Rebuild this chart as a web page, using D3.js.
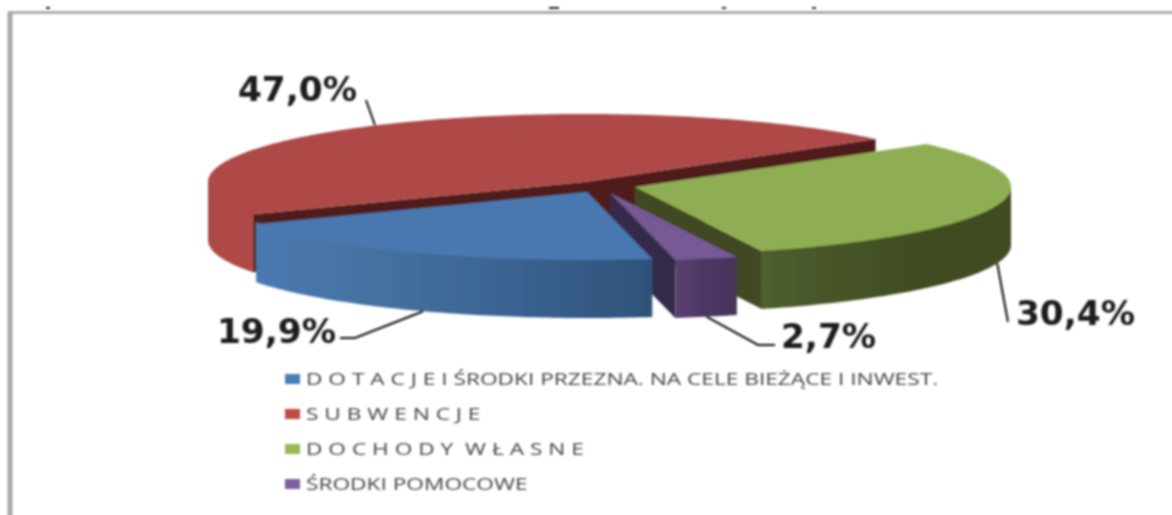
<!DOCTYPE html>
<html>
<head>
<meta charset="utf-8">
<script src="https://cdn.jsdelivr.net/npm/d3@7"></script>
<style>
    html, body { margin: 0; padding: 0; background: #fff; overflow: hidden; }
    svg { display: block; }
</style>
</head>
<body>
<div id="chart"></div>
<script>
// values
const categories = ['D O T A C J E I ŚRODKI PRZEZNA. NA CELE BIEŻĄCE I INWEST.', 'S U B W E N C J E', 'D O C H O D Y  W Ł A S N E', 'ŚRODKI POMOCOWE'];
const shares = [19.9, 47.0, 30.4, 2.7];
const shareLabels = ['19,9%', '47,0%', '30,4%', '2,7%'];

// styles, same order as categories
const topColors = ['#4878b0', '#ae4a46', '#8fae52', '#745a96'];
const legendColors = ['#4a7ebb', '#be4b48', '#98b954', '#7d60a0'];
const cutColors = ['#2f4f78', '#4f1f1e', '#3f4a20', '#352a48'];
const wallStops = [
    ['#4a7ab2', '#44709f', '#3a6290', '#2f5279'],
    ['#a84845', '#b04a47', '#ae4a46', '#ae4a46'],
    ['#4e5f2b', '#465428', '#3f4c20', '#3f4c20'],
    ['#5a4070', '#503a66', '#483660', '#463458']
];

// exploded slice centres and leader/label layout
const centers = [[587, 192], [584, 182], [635, 187], [610, 193]];
const leaderBends = [[[355, 338], [340, 338]], [[366, 100]], [[1008, 322]], [[758, 345], [775, 345]]];
const labelAnchors = [[217, 343], [238, 101], [1016, 325], [781, 348]];

// bits of the cropped title that show above the frame
const cropSpecks = [[46, 4], [549, 10], [722, 4], [812, 4]];

const width = 1172, height = 515;
const rx = 376, ry = 68, depth = 58;
const startAngle = 170 * Math.PI / 180;
const legendX = 285, legendY = d3.scaleLinear().domain([0, 3]).range([379, 484]);

const svg = d3.select('#chart').append('svg')
    .attr('width', width)
    .attr('height', height)
    .attr('viewBox', [0, 0, width, height]);

const defs = svg.append('defs');
defs.append('filter').attr('id', 'soft')
    .attr('filterUnits', 'userSpaceOnUse')
    .attr('x', 0).attr('y', 0).attr('width', width).attr('height', height)
    .append('feGaussianBlur').attr('stdDeviation', 0.8);

wallStops.forEach((stops, i) => {
    const grad = defs.append('linearGradient').attr('id', 'wall-' + i);
    stops.forEach((c, j) => {
        grad.append('stop').attr('offset', j / (stops.length - 1)).attr('stop-color', c);
    });
});

const root = svg.append('g').attr('filter', 'url(#soft)');

// frame
root.append('path')
    .attr('d', d3.line()([[10, height + 5], [10, 12.5]]))
    .attr('stroke', '#a8a8a8')
    .attr('stroke-width', 5);
root.append('path')
    .attr('d', d3.line()([[8, 12.5], [width + 5, 12.5]]))
    .attr('stroke', '#9c9c9c')
    .attr('stroke-width', 2.5);

root.selectAll('rect.speck')
    .data(cropSpecks)
    .join('rect')
    .attr('class', 'speck')
    .attr('x', d => d[0])
    .attr('y', 7)
    .attr('width', d => d[1])
    .attr('height', 2)
    .attr('fill', '#222');

const pie = d3.pie().sort(null)
    .startAngle(startAngle)
    .endAngle(startAngle + 2 * Math.PI);
const slices = pie(shares);

// angle is clockwise from the top, as in d3.pie
const project = (i, a, drop = 0) => [
    centers[i][0] + rx * Math.sin(a),
    centers[i][1] - ry * Math.cos(a) + drop
];
const arcAngles = (a0, a1) => {
    const n = Math.max(2, Math.ceil(Math.abs(a1 - a0) * 60));
    return d3.range(n + 1).map(k => a0 + (a1 - a0) * k / n);
};
const line = d3.line();

// paint back to front: red, green, purple, blue
[1, 2, 3, 0].forEach(i => {
    const s = slices[i];
    const g = root.append('g');
    const apex = centers[i];
    const apexLow = [apex[0], apex[1] + depth];

    // cut faces, only those turned to the viewer
    [s.startAngle, s.endAngle].forEach(a => {
        const facing = a === s.endAngle
            ? Math.cos(a + Math.PI / 2) < 0
            : Math.cos(a - Math.PI / 2) < 0;
        if (!facing) return;
        const rim = project(i, a), rimLow = project(i, a, depth);
        g.append('path')
            .attr('d', line([apex, rim, rimLow, apexLow]) + 'Z')
            .attr('fill', cutColors[i]);
    });

    // outer wall, front half of the ellipse only
    const twoPi = 2 * Math.PI;
    let a0 = s.startAngle, a1 = s.endAngle;
    [[Math.PI / 2, 3 * Math.PI / 2], [Math.PI / 2 + twoPi, 3 * Math.PI / 2 + twoPi]].forEach(([lo, hi]) => {
        const from = Math.max(a0, lo), to = Math.min(a1, hi);
        if (to <= from) return;
        const angles = arcAngles(from, to);
        // upper edge runs a little under the top face so no seam shows
        const pts = angles.map(a => project(i, a, -2))
            .concat(angles.slice().reverse().map(a => project(i, a, depth)));
        g.append('path')
            .attr('d', line(pts) + 'Z')
            .attr('fill', `url(#wall-${i})`);
    });

    // top face
    g.append('path')
        .attr('d', line([apex].concat(arcAngles(a0, a1).map(a => project(i, a)))) + 'Z')
        .attr('fill', topColors[i]);
});

// leader lines start at the middle of each slice's rim
slices.forEach((s, i) => {
    const mid = (s.startAngle + s.endAngle) / 2;
    const front = Math.cos(mid) < 0;
    const rim = project(i, mid, front ? depth : 0);
    root.append('path')
        .attr('d', line([rim].concat(leaderBends[i])))
        .attr('fill', 'none')
        .attr('stroke', '#111')
        .attr('stroke-width', 2);
});

// the original is stretched sideways, so the texts are too
root.selectAll('text.share')
    .data(shareLabels)
    .join('text')
    .attr('class', 'share')
    .attr('transform', (d, i) => `translate(${labelAnchors[i][0]},${labelAnchors[i][1]}) scale(1.04,1)`)
    .attr('font-family', '"DejaVu Sans", sans-serif')
    .attr('font-weight', 700)
    .attr('font-size', 33)
    .attr('fill', '#1a1a1a')
    .text(d => d);

// legend
const legend = root.selectAll('g.legend')
    .data(categories)
    .join('g')
    .attr('class', 'legend')
    .attr('transform', (d, i) => `translate(${legendX},${legendY(i)})`);

legend.append('rect')
    .attr('x', 0)
    .attr('y', -5)
    .attr('width', 15)
    .attr('height', 10)
    .attr('fill', (d, i) => legendColors[i]);

legend.append('text')
    .attr('transform', 'translate(21,6) scale(1.42,1)')
    .attr('font-family', '"Open Sans", sans-serif')
    .attr('font-size', 16)
    .attr('fill', '#444')
    .attr('xml:space', 'preserve')
    .text(d => d);
</script>
</body>
</html>
